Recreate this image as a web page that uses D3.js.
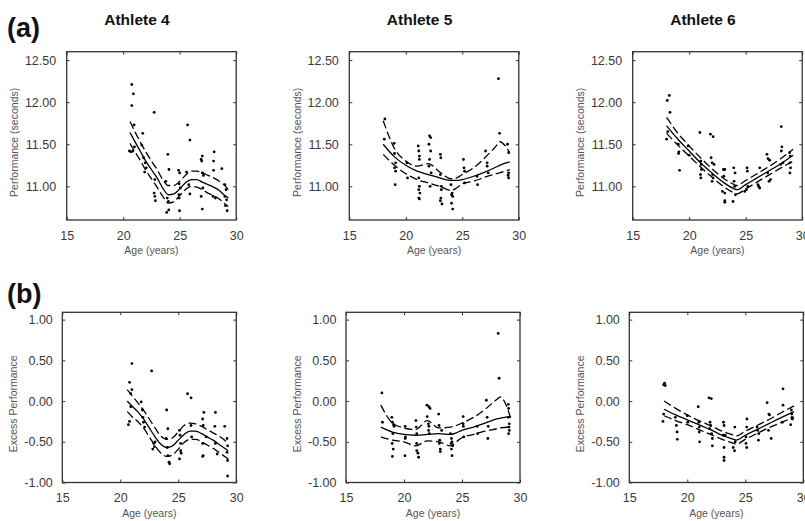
<!DOCTYPE html>
<meta charset="utf-8">
<style>
body { margin: 0; background: #fff; }
svg { display: block; font-family: "Liberation Sans", Arial, sans-serif; }
.tick text { font-size: 12.5px; fill: #3a3a3a; }
.tick line { stroke: #333; }
.axis-title { font-size: 10.5px; fill: #555; text-anchor: middle; }
.title { font-size: 15.5px; font-weight: bold; fill: #111; text-anchor: middle; }
.tag { font-size: 27px; font-weight: bold; fill: #111; }
.frame { fill: none; stroke: #333; stroke-width: 1.3; }
.fit { fill: none; stroke: #000; stroke-width: 1.3; }
.band { fill: none; stroke: #000; stroke-width: 1.3; stroke-dasharray: 8,3.5; }
</style>
<svg width="805" height="521"></svg>
<script src="https://d3js.org/d3.v7.min.js"></script>
<script>

// ---- data ----
const ageTicks = [15, 20, 25, 30];
const perfTicks = [11.0, 11.5, 12.0, 12.5];
const excessTicks = [-1.0, -0.5, 0.0, 0.5, 1.0];
const athletes = ["Athlete 4", "Athlete 5", "Athlete 6"];

// Athlete 4
const perfAge4 = [20.76,20.9,20.76,20.96,20.55,20.7,20.85,21.0,21.73,21.64,21.8,21.95,22.05,21.9,22.74,22.8,22.74,22.8,22.85,23.77,23.95,24.05,23.9,24.0,23.85,24.03,24.9,25.0,24.95,25.05,24.93,24.95,24.98,25.7,25.9,25.6,25.8,25.9,26.9,27.0,26.95,27.0,27.0,27.1,27.05,26.9,28.0,28.0,28.05,27.95,28.15,28.73,29.0,29.1,29.0,29.15,29.05,29.2];
const perf4 = [12.21,12.10,11.96,11.73,11.42,11.41,11.42,11.47,11.63,11.49,11.34,11.28,11.22,11.17,11.88,11.08,10.92,10.88,10.83,11.06,11.38,11.20,10.86,10.82,10.69,10.72,11.19,11.16,11.03,10.98,10.90,10.86,10.71,11.73,11.55,11.17,11.02,10.91,11.32,11.36,11.30,11.16,10.73,11.13,10.98,10.88,11.30,11.19,11.41,10.88,10.86,11.21,11.02,10.96,10.88,10.84,10.77,10.71];
const excessAge4 = [21.0,20.8,21.0,20.9,20.9,20.8,20.7,21.8,21.9,21.95,22.0,22.1,22.7,22.9,22.95,22.8,23.0,24.0,24.1,23.95,24.05,24.1,24.2,24.25,25.1,25.15,25.2,25.2,25.25,25.1,25.8,26.1,26.1,26.15,27.1,27.15,27.2,27.1,27.15,27.1,27.4,28.2,28.15,28.2,28.35,29.0,29.2,29.25,29.2,29.25,29.25];
const excess4 = [0.46,0.23,0.14,0.09,-0.07,-0.25,-0.29,-0.01,-0.11,-0.20,-0.26,-0.32,0.37,-0.52,-0.56,-0.59,-0.50,-0.11,-0.34,-0.46,-0.57,-0.67,-0.75,-0.77,-0.36,-0.42,-0.52,-0.61,-0.64,-0.71,0.09,0.04,-0.30,-0.44,-0.22,-0.30,-0.14,-0.52,-0.67,-0.68,-0.44,-0.14,-0.31,-0.52,-0.65,-0.31,-0.46,-0.55,-0.63,-0.73,-0.92];
const fitAge4 = [20.6,21,21.5,22,22.5,23,23.5,24,24.5,25,25.5,26,26.5,27,27.5,28,28.5,29,29.3];
const perfMid4 = [11.64,11.54,11.42,11.30,11.20,11.10,10.98,10.90,10.91,10.97,11.04,11.08,11.08,11.05,11.02,10.99,10.95,10.89,10.86];
const perfHi4 = [11.77,11.66,11.53,11.41,11.30,11.20,11.08,11.01,11.01,11.06,11.13,11.18,11.18,11.16,11.13,11.10,11.06,11.01,10.96];
const perfLo4 = [11.51,11.42,11.31,11.19,11.09,10.99,10.88,10.80,10.82,10.89,10.96,11.00,10.99,10.96,10.92,10.89,10.85,10.79,10.76];
const excessMid4 = [0.0,-0.06,-0.13,-0.22,-0.33,-0.44,-0.53,-0.57,-0.55,-0.48,-0.41,-0.37,-0.37,-0.40,-0.44,-0.48,-0.53,-0.58,-0.61];
const excessHi4 = [0.14,0.07,-0.02,-0.11,-0.22,-0.33,-0.43,-0.47,-0.45,-0.38,-0.30,-0.27,-0.28,-0.31,-0.35,-0.39,-0.43,-0.48,-0.52];
const excessLo4 = [-0.13,-0.19,-0.25,-0.33,-0.44,-0.55,-0.64,-0.68,-0.66,-0.59,-0.51,-0.47,-0.47,-0.50,-0.54,-0.58,-0.63,-0.68,-0.71];

// Athlete 5
const perfAge5 = [18.15,18.1,18.97,19.06,19.0,19.1,19.0,19.1,20.1,20.15,21.1,21.15,21.2,21.2,21.15,21.2,21.15,21.25,21.15,21.2,22.1,22.2,22.05,22.2,22.1,22.05,22.25,22.15,23.06,23.1,23.06,23.15,23.15,23.1,23.06,23.2,24.0,24.1,24.05,24.05,24.15,24.15,25.1,25.15,25.2,25.2,26.3,26.35,27.06,27.2,27.2,27.3,28.2,28.3,29.0,29.1,29.1,29.05,29.1];
const perf5 = [11.80,11.56,11.51,11.02,11.39,11.28,11.22,11.18,11.28,11.10,11.48,11.42,11.36,11.32,11.10,11.00,10.96,10.92,10.86,10.85,11.60,11.58,11.50,11.42,11.32,11.24,11.16,11.00,11.38,11.34,11.14,11.00,10.96,10.86,10.83,10.79,11.02,10.92,10.90,10.80,10.73,10.88,11.32,11.22,11.18,11.04,11.12,11.02,11.42,11.28,11.24,11.16,12.28,11.63,11.50,11.40,11.16,11.13,11.10];
const excessAge5 = [18.09,18.14,18.95,19.0,19.1,19.15,19.04,18.98,19.07,19.0,20.1,20.13,20.1,20.08,21.03,21.06,21.1,21.09,21.1,21.2,21.26,21.98,22.15,22.25,22.0,22.1,22.15,22.12,22.18,22.99,23.02,23.08,23.05,23.13,23.13,23.25,24.0,24.09,24.14,24.06,24.2,24.14,24.09,25.1,25.1,25.12,25.15,26.3,26.34,27.1,27.17,27.26,27.23,28.12,28.2,28.99,29.02,28.99,29.08,29.05,29.08,29.02];
const excess5 = [0.10,-0.26,-0.20,-0.26,-0.29,-0.31,-0.40,-0.52,-0.59,-0.68,-0.31,-0.44,-0.46,-0.67,-0.24,-0.32,-0.40,-0.52,-0.61,-0.64,-0.69,-0.05,-0.07,-0.09,-0.19,-0.28,-0.31,-0.36,-0.40,-0.16,-0.30,-0.48,-0.52,-0.59,-0.62,-0.36,-0.40,-0.46,-0.50,-0.52,-0.55,-0.67,-0.59,-0.19,-0.28,-0.31,-0.44,-0.31,-0.40,0.01,-0.20,-0.31,-0.46,0.83,0.28,-0.04,-0.09,-0.20,-0.28,-0.32,-0.36,-0.40];
const fitAge5 = [18,19,20,21,22,23,24,24.5,25,26,27,28,28.3,29.2];
const perfMid5 = [11.50,11.35,11.25,11.18,11.14,11.10,11.07,11.07,11.08,11.12,11.17,11.23,11.25,11.29];
const perfHi5 = [11.78,11.45,11.30,11.24,11.27,11.17,11.09,11.10,11.14,11.22,11.34,11.48,11.53,11.40];
const perfLo5 = [11.38,11.25,11.15,11.08,11.04,11.00,10.95,10.98,11.03,11.06,11.11,11.15,11.16,11.20];
const excessMid5 = [-0.32,-0.38,-0.41,-0.42,-0.41,-0.40,-0.41,-0.39,-0.36,-0.32,-0.27,-0.22,-0.21,-0.19];
const excessHi5 = [-0.05,-0.27,-0.33,-0.35,-0.24,-0.33,-0.32,-0.30,-0.27,-0.20,-0.10,0.02,0.05,-0.21];
const excessLo5 = [-0.44,-0.48,-0.50,-0.55,-0.49,-0.50,-0.55,-0.50,-0.45,-0.41,-0.37,-0.34,-0.33,-0.32];

// Athlete 6
const perfAge6 = [18.06,18.24,18.3,18.0,18.1,19.03,19.09,19.06,19.15,19.91,20.0,20.94,21.03,21.06,21.09,21.0,21.03,21.88,22.12,21.94,22.03,22.2,22.06,22.12,22.03,23.03,23.15,23.06,22.94,23.15,23.15,23.15,23.94,24.06,23.97,23.88,24.03,24.09,25.12,25.15,24.91,25.06,25.2,26.24,26.09,26.15,26.24,26.88,26.97,27.12,26.94,27.06,27.2,28.15,28.2,28.15,28.3,28.09,28.88,28.94,28.91,28.97,28.91];
const perf6 = [12.02,12.08,11.88,11.56,11.65,11.50,11.41,11.39,11.19,11.48,11.37,11.64,11.30,11.26,11.20,11.14,11.10,11.62,11.59,11.34,11.28,11.26,11.14,11.10,11.06,11.20,11.20,11.12,10.94,10.92,10.83,10.81,11.22,11.16,11.06,10.82,11.00,10.90,11.22,11.18,10.94,10.96,11.00,11.22,11.02,11.00,10.98,11.38,11.33,11.31,11.16,11.06,11.08,11.71,11.47,11.42,11.28,11.26,11.40,11.36,11.28,11.22,11.16];
const excessAge6 = [17.96,18.1,18.04,17.96,17.9,18.97,19.06,19.12,19.14,19.99,20.04,20.94,21.0,21.03,21.03,21.06,21.87,22.07,21.96,22.01,22.1,22.16,22.16,21.93,23.12,23.17,23.09,23.17,23.17,23.17,23.26,24.1,23.96,24.07,24.13,25.14,25.12,25.06,25.06,25.12,26.01,26.07,26.16,26.13,26.88,27.03,27.09,27.0,27.23,28.25,28.25,28.19,28.97,29.0,29.06,28.91,29.03];
const excess6 = [0.20,0.19,0.22,-0.16,-0.25,-0.20,-0.30,-0.38,-0.47,-0.18,-0.26,-0.07,-0.26,-0.32,-0.38,-0.50,0.04,0.03,-0.26,-0.30,-0.40,-0.46,-0.55,-0.34,-0.26,-0.30,-0.42,-0.57,-0.69,-0.73,-0.42,-0.32,-0.57,-0.61,-0.50,-0.22,-0.32,-0.44,-0.52,-0.57,-0.32,-0.36,-0.40,-0.48,-0.02,-0.16,-0.17,-0.36,-0.46,0.15,-0.05,-0.26,-0.11,-0.16,-0.22,-0.29,-0.20];
const fitAge6 = [18,19,20,21,22,23,24,24.2,25,26,27,28,29.2];
const perfMid6 = [11.72,11.56,11.42,11.28,11.16,11.05,10.97,10.96,11.02,11.10,11.18,11.26,11.37];
const perfHi6 = [11.82,11.63,11.48,11.34,11.21,11.10,11.02,11.01,11.07,11.15,11.23,11.32,11.44];
const perfLo6 = [11.63,11.49,11.36,11.23,11.11,11.00,10.92,10.91,10.97,11.05,11.13,11.21,11.30];
const excessMid6 = [-0.10,-0.17,-0.23,-0.29,-0.35,-0.42,-0.47,-0.48,-0.42,-0.35,-0.28,-0.21,-0.13];
const excessHi6 = [0.0,-0.09,-0.17,-0.24,-0.30,-0.37,-0.42,-0.43,-0.37,-0.30,-0.23,-0.15,-0.06];
const excessLo6 = [-0.18,-0.24,-0.29,-0.35,-0.41,-0.47,-0.52,-0.53,-0.47,-0.40,-0.33,-0.27,-0.20];

// ---- layout ----
const rows = [
	{ tag: "(a)", tagY: 37, lefts: [66.7, 349.3, 632.7], w: 169.5, top: 51.7, bottom: 220,
	  domain: [10.6, 12.6], ticks: perfTicks, yTitle: "Performance (seconds)", yPad: 10.5, yTitleDx: 48.8 },
	{ tag: "(b)", tagY: 303, lefts: [62.3, 346, 629.3], w: 174, top: 312.3, bottom: 482.5,
	  domain: [-1.0, 1.09], ticks: excessTicks, yTitle: "Excess Performance", yPad: 9.5, yTitleDx: 45.3 }
];

const panels = [
	{ row: 0, col: 0, px: perfAge4, py: perf4, fx: fitAge4, mid: perfMid4, hi: perfHi4, lo: perfLo4 },
	{ row: 0, col: 1, px: perfAge5, py: perf5, fx: fitAge5, mid: perfMid5, hi: perfHi5, lo: perfLo5 },
	{ row: 0, col: 2, px: perfAge6, py: perf6, fx: fitAge6, mid: perfMid6, hi: perfHi6, lo: perfLo6 },
	{ row: 1, col: 0, px: excessAge4, py: excess4, fx: fitAge4, mid: excessMid4, hi: excessHi4, lo: excessLo4 },
	{ row: 1, col: 1, px: excessAge5, py: excess5, fx: fitAge5, mid: excessMid5, hi: excessHi5, lo: excessLo5 },
	{ row: 1, col: 2, px: excessAge6, py: excess6, fx: fitAge6, mid: excessMid6, hi: excessHi6, lo: excessLo6 }
];

const svg = d3.select("svg");
const fmt = d => d3.format(".2f")(d).replace("\u2212", "-");

rows.forEach(r => {
	svg.append("text").attr("class", "tag").attr("x", 7).attr("y", r.tagY).text(r.tag);
});

athletes.forEach((name, i) => {
	svg.append("text").attr("class", "title")
		.attr("x", rows[0].lefts[i] + 70.3).attr("y", 25).text(name);
});

panels.forEach(p => {
	let r = rows[p.row],
		x0 = r.lefts[p.col],
		x1 = x0 + r.w;

	let x = d3.scaleLinear().domain([15, 30]).range([x0, x1]);
	let y = d3.scaleLinear().domain(r.domain).range([r.bottom, r.top]);

	let g = svg.append("g");

	// inward ticks on all four sides, labels only left and bottom
	g.append("g").attr("transform", "translate(0," + r.bottom + ")")
		.call(d3.axisBottom(x).tickValues(ageTicks).tickSizeInner(-3).tickSizeOuter(0).tickPadding(11).tickFormat(d3.format("d")));
	g.append("g").attr("transform", "translate(0," + r.top + ")")
		.call(d3.axisTop(x).tickValues(ageTicks).tickSizeInner(-3).tickSizeOuter(0).tickFormat(""));
	g.append("g").attr("transform", "translate(" + x0 + ",0)")
		.call(d3.axisLeft(y).tickValues(r.ticks).tickSizeInner(-3).tickSizeOuter(0).tickPadding(r.yPad).tickFormat(fmt));
	g.append("g").attr("transform", "translate(" + x1 + ",0)")
		.call(d3.axisRight(y).tickValues(r.ticks).tickSizeInner(-3).tickSizeOuter(0).tickFormat(""));
	g.selectAll(".domain").remove();
	g.selectAll(".tick text").attr("font-family", null).attr("font-size", null).attr("fill", null);

	g.append("rect").attr("class", "frame")
		.attr("x", x0).attr("y", r.top).attr("width", r.w).attr("height", r.bottom - r.top);

	let line = d3.line()
		.x((d, i) => x(p.fx[i]))
		.y(d => y(d))
		.curve(d3.curveMonotoneX);

	g.append("path").attr("class", "band").attr("d", line(p.hi));
	g.append("path").attr("class", "band").attr("d", line(p.lo));
	g.append("path").attr("class", "fit").attr("d", line(p.mid));

	g.selectAll("circle.pt")
		.data(p.px)
		.enter()
		.append("circle")
		.attr("class", "pt")
		.attr("cx", d => x(d))
		.attr("cy", (d, i) => y(p.py[i]))
		.attr("r", 1.4)
		.attr("fill", "#000");

	g.append("text").attr("class", "axis-title")
		.attr("x", (x0 + x1) / 2).attr("y", r.bottom + 34)
		.text("Age (years)");

	g.append("text").attr("class", "axis-title")
		.attr("transform", "translate(" + (x0 - r.yTitleDx) + "," + ((r.top + r.bottom) / 2 + 6.5) + ") rotate(-90)")
		.text(r.yTitle);
});

</script>
